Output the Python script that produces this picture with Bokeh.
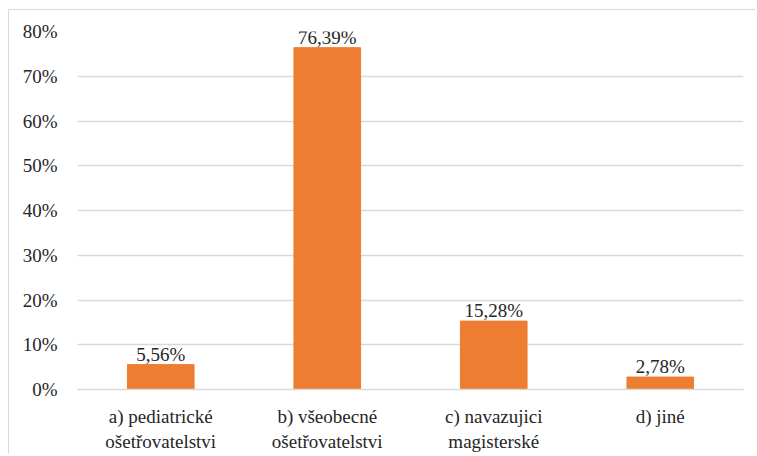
from bokeh.plotting import figure
from bokeh.models import ColumnDataSource, FactorRange, Range1d, NumeralTickFormatter, FixedTicker
from bokeh.embed import file_html
from bokeh.resources import INLINE
from bokeh.core.properties import value

categories = ["a) pediatrické\nošetřovatelstvi", "b) všeobecné\nošetřovatelstvi", "c) navazujici\nmagisterské", "d) jiné"]
values = [0.0556, 0.7639, 0.1528, 0.0278]
value_labels = ["5,56%", "76,39%", "15,28%", "2,78%"]
y_ticks = [0, 0.1, 0.2, 0.3, 0.4, 0.5, 0.6, 0.7, 0.8]

FONT = "Liberation Serif"

src = ColumnDataSource(dict(x=categories, top=values, lab=value_labels))

p = figure(x_range=FactorRange(*categories, range_padding=0), y_range=Range1d(0, 0.8),
           width=747, height=445, output_backend="svg", toolbar_location=None,
           min_border_left=68, min_border_right=13, min_border_top=21, min_border_bottom=66)
p.styles = {"border-left": "1px solid #d9d9d9", "border-top": "1px solid #d9d9d9",
            "margin-left": "8px", "margin-top": "9px"}
p.outline_line_color = None

p.vbar(x="x", top="top", width=0.4, source=src, color="#ED7D31")
p.text(x="x", y="top", text="lab", source=src, text_align="center", text_baseline="bottom",
       y_offset=0, text_font=value(FONT), text_font_size="19px", text_color="#262626")

p.yaxis.ticker = FixedTicker(ticks=y_ticks)
p.yaxis.formatter = NumeralTickFormatter(format="0%")
p.yaxis.axis_line_color = None
p.yaxis.major_tick_line_color = None
p.yaxis.minor_tick_line_color = None
p.yaxis.major_label_standoff = 14
p.yaxis.major_label_text_font = FONT
p.yaxis.major_label_text_font_size = "19px"
p.yaxis.major_label_text_color = "#262626"

p.xaxis.axis_line_color = "#d9d9d9"
p.xaxis.axis_line_width = 1.5
p.xaxis.major_tick_line_color = None
p.xaxis.minor_tick_line_color = None
p.xaxis.major_label_standoff = 10
p.xaxis.major_label_text_font = FONT
p.xaxis.major_label_text_font_size = "19px"
p.xaxis.major_label_text_color = "#262626"

p.xgrid.grid_line_color = None
p.ygrid.grid_line_color = "#d9d9d9"
p.ygrid.grid_line_width = 1.5

open("out.html", "w").write(file_html(p, INLINE))
